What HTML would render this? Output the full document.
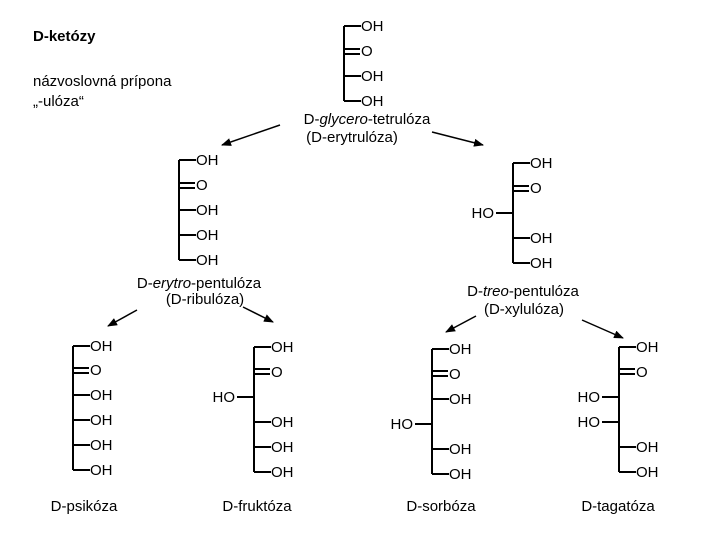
<!DOCTYPE html>
<html><head><meta charset="utf-8"><style>
body{margin:0;background:#fff}
svg{display:block}
text{font-family:"Liberation Sans",sans-serif;font-size:15px;fill:#000}
</style></head><body>
<svg width="720" height="540" viewBox="0 0 720 540" xmlns="http://www.w3.org/2000/svg">
<defs><marker id="a" markerWidth="10" markerHeight="8" refX="9" refY="4" orient="auto" markerUnits="userSpaceOnUse"><path d="M0,0 L10,4 L0,8 Z" fill="#000"/></marker></defs>
<text x="33" y="41" style="font-weight:bold;font-size:15px">D-ketózy</text>
<text x="33" y="86" style="font-size:15px">názvoslovná prípona</text>
<text x="33" y="106" style="font-size:15px">„-ulóza“</text>
<g stroke="#000" stroke-width="2" fill="none">
<path d="M344,26V101 M344,26H361 M344,76H361 M344,101H361 M344,49H360 M344,54H360"/>
<path d="M179,160V260 M179,160H196 M179,210H196 M179,235H196 M179,260H196 M179,183H195 M179,188H195"/>
<path d="M513,163V263 M513,163H530 M513,213H496 M513,238H530 M513,263H530 M513,186H529 M513,191H529"/>
<path d="M73,346V470 M73,346H90 M73,395H90 M73,420H90 M73,445H90 M73,470H90 M73,368H89 M73,373H89"/>
<path d="M254,347V472 M254,347H271 M254,397H237 M254,422H271 M254,447H271 M254,472H271 M254,369H270 M254,374H270"/>
<path d="M432,349V474 M432,349H449 M432,399H449 M432,424H415 M432,449H449 M432,474H449 M432,371H448 M432,376H448"/>
<path d="M619,347V472 M619,347H636 M619,397H602 M619,422H602 M619,447H636 M619,472H636 M619,369H635 M619,374H635"/>
</g>
<g stroke="#000" stroke-width="1.5" marker-end="url(#a)">
<line x1="280" y1="125" x2="222" y2="145"/>
<line x1="432" y1="132" x2="483" y2="145"/>
<line x1="137" y1="310" x2="108" y2="326"/>
<line x1="243" y1="307" x2="273" y2="322"/>
<line x1="476" y1="316" x2="446" y2="332"/>
<line x1="582" y1="320" x2="623" y2="338"/>
</g>
<text x="361" y="31">OH</text><text x="361" y="56">O</text><text x="361" y="81">OH</text><text x="361" y="106">OH</text>
<text x="367" y="124" text-anchor="middle">D-<tspan font-style="italic">glycero</tspan>-tetrulóza</text>
<text x="352" y="142" text-anchor="middle">(D-erytrulóza)</text>
<text x="196" y="165">OH</text><text x="196" y="190">O</text><text x="196" y="215">OH</text><text x="196" y="240">OH</text><text x="196" y="265">OH</text>
<text x="199" y="288" text-anchor="middle">D-<tspan font-style="italic">erytro</tspan>-pentulóza</text>
<text x="205" y="304" text-anchor="middle">(D-ribulóza)</text>
<text x="530" y="168">OH</text><text x="530" y="193">O</text><text x="494" y="218" text-anchor="end">HO</text><text x="530" y="243">OH</text><text x="530" y="268">OH</text>
<text x="523" y="296" text-anchor="middle">D-<tspan font-style="italic">treo</tspan>-pentulóza</text>
<text x="524" y="314" text-anchor="middle">(D-xylulóza)</text>
<text x="90" y="351">OH</text><text x="90" y="375">O</text><text x="90" y="400">OH</text><text x="90" y="425">OH</text><text x="90" y="450">OH</text><text x="90" y="475">OH</text>
<text x="84" y="511" text-anchor="middle">D-psikóza</text>
<text x="271" y="352">OH</text><text x="271" y="377">O</text><text x="235" y="402" text-anchor="end">HO</text><text x="271" y="427">OH</text><text x="271" y="452">OH</text><text x="271" y="477">OH</text>
<text x="257" y="511" text-anchor="middle">D-fruktóza</text>
<text x="449" y="354">OH</text><text x="449" y="379">O</text><text x="449" y="404">OH</text><text x="413" y="429" text-anchor="end">HO</text><text x="449" y="454">OH</text><text x="449" y="479">OH</text>
<text x="441" y="511" text-anchor="middle">D-sorbóza</text>
<text x="636" y="352">OH</text><text x="636" y="377">O</text><text x="600" y="402" text-anchor="end">HO</text><text x="600" y="427" text-anchor="end">HO</text><text x="636" y="452">OH</text><text x="636" y="477">OH</text>
<text x="618" y="511" text-anchor="middle">D-tagatóza</text>
</svg>
</body></html>
